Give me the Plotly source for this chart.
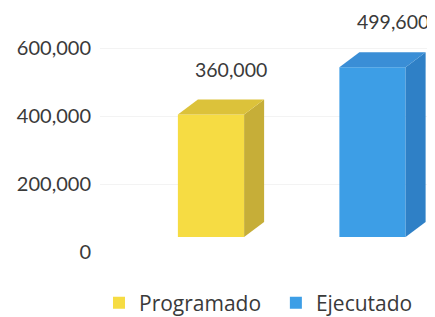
import plotly.graph_objects as go

series_names = ["Programado", "Ejecutado"]
series_values = [360000, 499600]
tick_values = [0, 200000, 400000, 600000]
tick_labels = ["0", "200,000", "400,000", "600,000"]
label_texts = ["360,000", "499,600"]

front_colors = ["#F6DC43", "#3D9EE6"]
side_colors = ["#C6AE38", "#2F80C6"]
top_colors = ["#DCC23A", "#3A8ED6"]

FONT = "Lato, 'Open Sans', sans-serif"
LEG_FONT = "'Open Sans', Lato, sans-serif"
TXT = "#3a3a3a"

# geometry styling (pixels -> data units)
PX_PER_UNIT_X = 161.5
PX_PER_200K = 68.0
W = 0.41                        # front face width (x units)
DX = 20 / PX_PER_UNIT_X         # depth in x
DY = 15 / PX_PER_200K * 200000  # depth in y (value units)

plot_h = 244
y1_max = plot_h / PX_PER_200K * 200000
y2_min = -DY
y2_max = y1_max - DY

legend_ids = ["legend", "legend2"]
legend_x = [-0.003, 0.525]

fig = go.Figure()

# invisible trace to anchor the tick axis
fig.add_trace(go.Scatter(x=[0], y=[0], mode="markers", marker=dict(opacity=0),
                         showlegend=False, hoverinfo="skip", yaxis="y"))

for i, (name, v) in enumerate(zip(series_names, series_values)):
    xl, xr = i - W / 2, i + W / 2
    # side face
    fig.add_trace(go.Scatter(
        x=[xr, xr + DX, xr + DX, xr, xr],
        y=[0, DY, v + DY, v, 0],
        fill="toself", fillcolor=side_colors[i], mode="lines",
        line=dict(width=0, color=side_colors[i]),
        showlegend=False, hoverinfo="skip", yaxis="y2"))
    # top face
    fig.add_trace(go.Scatter(
        x=[xl, xl + DX, xr + DX, xr, xl],
        y=[v, v + DY, v + DY, v, v],
        fill="toself", fillcolor=top_colors[i], mode="lines",
        line=dict(width=0, color=top_colors[i]),
        showlegend=False, hoverinfo="skip", yaxis="y2"))
    # front face
    fig.add_trace(go.Bar(
        x=[i], y=[v], width=W, name=name,
        marker=dict(color=front_colors[i], line=dict(width=0)),
        yaxis="y2", showlegend=True, legend=legend_ids[i]))
    fig.add_annotation(x=i + DX, y=v + DY, xref="x", yref="y2",
                       text=label_texts[i], showarrow=False,
                       yanchor="bottom", yshift=17,
                       font=dict(family=FONT, size=19.5, color=TXT))

leg_common = dict(orientation="h", xanchor="left", y=-0.209, yanchor="middle",
                  font=dict(family=LEG_FONT, size=21, color=TXT),
                  itemwidth=30, bgcolor="rgba(0,0,0,0)")

fig.update_layout(
    width=435, height=325,
    margin=dict(l=92, r=8, t=0, b=81, autoexpand=False),
    paper_bgcolor="white", plot_bgcolor="white",
    font=dict(family=FONT, size=20, color=TXT),
    xaxis=dict(range=[-111 / PX_PER_UNIT_X, 224 / PX_PER_UNIT_X],
               showgrid=False, zeroline=False, showticklabels=False,
               showline=False, fixedrange=True),
    yaxis=dict(range=[0, y1_max], tickvals=tick_values, ticktext=tick_labels,
               showgrid=True, gridcolor="#f3f3f3", zeroline=False,
               showline=False, ticks="", ticklabelstandoff=8,
               tickfont=dict(family=FONT, size=20, color=TXT)),
    yaxis2=dict(range=[y2_min, y2_max], overlaying="y", showgrid=False,
                zeroline=False, showticklabels=False, showline=False),
    barmode="overlay",
    showlegend=True,
    legend=dict(x=legend_x[0], **leg_common),
    legend2=dict(x=legend_x[1], **leg_common),
)

fig.write_html("out.html")
